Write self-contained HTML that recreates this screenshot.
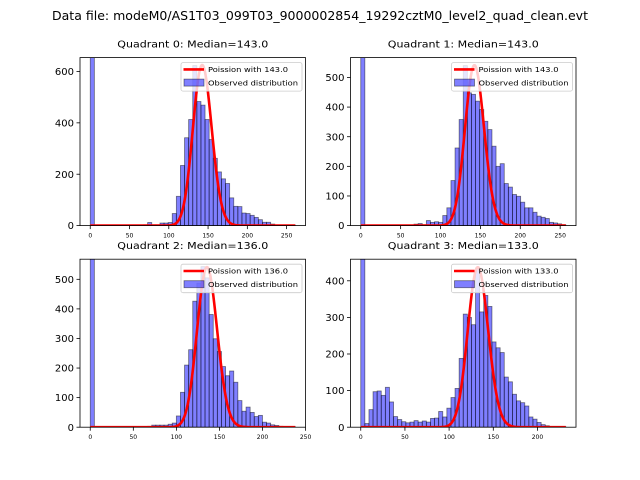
<!DOCTYPE html>
<html><head><meta charset="utf-8">
<style>
body{margin:0;background:#fff;}
svg{display:block;font-family:"DejaVu Sans","Liberation Sans",sans-serif;}
</style></head>
<body>
<svg id="fig" width="640" height="480" viewBox="0 0 640 480" xmlns="http://www.w3.org/2000/svg">
<rect width="640" height="480" fill="#fff"/>
<text x="320" y="20" text-anchor="middle" font-size="12" textLength="536" lengthAdjust="spacingAndGlyphs">Data file: modeM0/AS1T03_099T03_9000002854_19292cztM0_level2_quad_clean.evt</text>
</svg>
<script>
// ----- chart data -----
const quadrantNames = ["Quadrant 0", "Quadrant 1", "Quadrant 2", "Quadrant 3"];
const medians = [143.0, 143.0, 136.0, 133.0];
const dataMax = [261, 257, 238, 232];
const yMax = [654, 567, 568, 459];
const poissonPeak = [625, 541, 541, 437];
const yTicks0 = [0, 200, 400, 600];
const yTicks1 = [0, 100, 200, 300, 400, 500];
const yTicks2 = [0, 100, 200, 300, 400, 500];
const yTicks3 = [0, 100, 200, 300, 400];
const xTicks0 = [0, 50, 100, 150, 200, 250];
const xTicks1 = [0, 50, 100, 150, 200, 250];
const xTicks2 = [0, 50, 100, 150, 200, 250];
const xTicks3 = [0, 50, 100, 150, 200];
const counts0 = [5000,1,1,1,1,1,1,1,1,1,1,2,2,3,12,3,3,10,10,12,47,114,234,342,413,623,483,469,413,335,262,209,182,164,108,75,74,49,47,40,32,23,13,13,6,2,2,2,2,2];
const counts1 = [5000,1,1,1,1,1,1,1,1,1,1,1,2,5,7,3,17,11,13,11,34,60,152,262,358,540,448,443,420,392,352,324,268,200,209,142,130,105,99,79,60,60,45,32,28,24,11,9,6,3];
const counts2 = [5000,1,1,1,1,1,1,1,1,1,1,1,1,2,3,7,7,7,7,10,14,38,118,210,262,426,487,543,505,381,299,256,205,174,190,152,90,54,68,50,36,40,17,14,8,6,3,2,2,2];
const counts3 = [5000,10,48,97,99,87,109,69,29,21,15,12,14,18,14,17,14,24,25,43,28,52,81,106,188,309,300,280,435,315,360,330,233,217,204,137,124,90,72,67,58,28,22,13,7,4,2,2,2,2];

const yTicksAll = [yTicks0, yTicks1, yTicks2, yTicks3];
const xTicksAll = [xTicks0, xTicks1, xTicks2, xTicks3];
const countsAll = [counts0, counts1, counts2, counts3];

const NS = "http://www.w3.org/2000/svg";
const fig = document.getElementById("fig");
function mk(tag, attrs, parent){
  const e = document.createElementNS(NS, tag);
  for (const k in attrs) e.setAttribute(k, attrs[k]);
  (parent||fig).appendChild(e);
  return e;
}
function lgamma(z){
  let s = 0;
  while (z < 7){ s -= Math.log(z); z += 1; }
  return s + (z-0.5)*Math.log(z) - z + 0.5*Math.log(2*Math.PI) + 1/(12*z) - 1/(360*z*z*z);
}
function poissonPmf(k, mu){
  return Math.exp(k*Math.log(mu) - mu - lgamma(k+1));
}

const AW = 225.5, AH = 168;
const boxes = [[80,57.6],[350.5,57.6],[80,259.2],[350.5,259.2]];

for (let q = 0; q < 4; q++){
  const [L, T] = boxes[q];
  const xmin = -0.05*dataMax[q], xmax = dataMax[q]*1.05;
  const sx = v => L + (v - xmin)/(xmax - xmin)*AW;
  const sy = v => T + AH - v/yMax[q]*AH;
  const g = mk("g", {});
  
  
  const clipId = "clip" + q;
  const cp = mk("clipPath", {id: clipId}, g);
  mk("rect", {x: L, y: T, width: AW, height: AH}, cp);

  const title = mk("text", {x: L + AW/2, y: T - 10, "text-anchor": "middle", "font-size": "9.6", textLength: "151", lengthAdjust: "spacingAndGlyphs"}, g);
  title.textContent = quadrantNames[q] + ": Median=" + medians[q].toFixed(1);
  
  

  const bars = mk("g", {"clip-path": "url(#" + clipId + ")"}, g);
  
  
  const counts = countsAll[q];
  const bw = dataMax[q] / counts.length;
  counts.forEach((c, i) => {
    const x0 = sx(i*bw), x1 = sx((i+1)*bw);
    const y = sy(c);
    const r = mk("rect", {x: x0, y: y, width: x1 - x0, height: sy(0) - y, fill: "rgba(0,0,255,0.5)", stroke: "rgba(0,0,0,0.5)", "stroke-width": "0.8"}, bars);
    
    
  });

  const pk = poissonPmf(Math.round(medians[q]), medians[q]);
  let d = "";
  for (let k = 0; k <= dataMax[q]; k++){
    const v = poissonPeak[q] * poissonPmf(k, medians[q]) / pk;
    d += (k ? "L" : "M") + sx(k).toFixed(2) + "," + sy(v).toFixed(2);
  }
  const line = mk("path", {d: d, fill: "none", stroke: "#ff0000", "stroke-width": "2.6", "stroke-linejoin": "round", "clip-path": "url(#" + clipId + ")"}, g);
  
  

  const fr = mk("rect", {x: L, y: T, width: AW, height: AH, fill: "none", stroke: "#000", "stroke-width": "0.8"}, g);
  
  

  yTicksAll[q].forEach(v => {
    const y = sy(v);
    mk("line", {x1: L - 3.5, x2: L, y1: y, y2: y, stroke: "#000", "stroke-width": "0.8"}, g);
    const t = mk("text", {x: L - 6, y: y + 3.6, "text-anchor": "end", "font-size": "10"}, g);
    t.textContent = v;
    
    
  });
  xTicksAll[q].forEach(v => {
    const x = sx(v);
    mk("line", {x1: x, x2: x, y1: T + AH, y2: T + AH + 3.5, stroke: "#000", "stroke-width": "0.8"}, g);
    const t = mk("text", {x: x, y: T + AH + 12, "text-anchor": "middle", "font-size": "6"}, g);
    t.textContent = v;
    
    
  });

  const lg = mk("g", {}, g);
  
  
  const lx = L + AW - 124.5, ly = T + 5;
  mk("rect", {x: lx, y: ly, width: 121, height: 28.5, rx: 2, fill: "rgba(255,255,255,0.8)", stroke: "#ccc", "stroke-width": "0.8"}, lg);
  mk("line", {x1: lx + 2.5, x2: lx + 23, y1: ly + 6.8, y2: ly + 6.8, stroke: "#ff0000", "stroke-width": "2.6"}, lg);
  const t1 = mk("text", {x: lx + 27, y: ly + 9.5, "font-size": "7.4", textLength: "80", lengthAdjust: "spacingAndGlyphs"}, lg);
  t1.textContent = "Poission with " + medians[q].toFixed(1);
  
  
  mk("rect", {x: lx + 3, y: ly + 16.5, width: 20, height: 7, fill: "rgba(0,0,255,0.5)", stroke: "rgba(0,0,0,0.5)", "stroke-width": "0.8"}, lg);
  const t2 = mk("text", {x: lx + 27, y: ly + 22.8, "font-size": "7.4", textLength: "90", lengthAdjust: "spacingAndGlyphs"}, lg);
  t2.textContent = "Observed distribution";
  
  
}
</script>
</body></html>
